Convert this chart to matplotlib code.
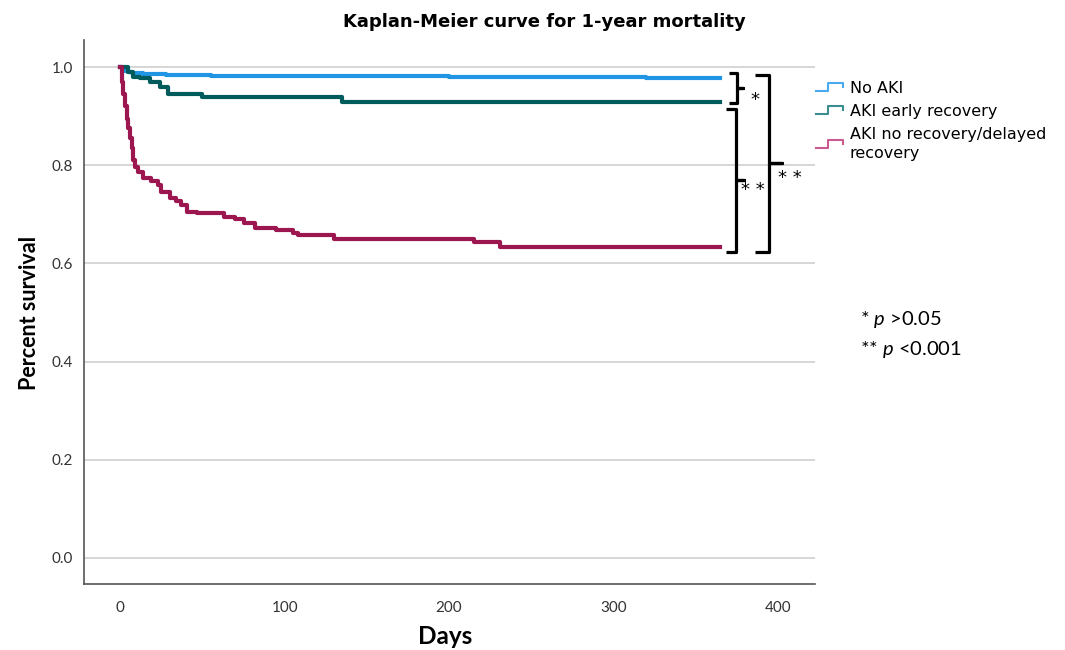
import numpy as np
import matplotlib
matplotlib.use('Agg')
import matplotlib.pyplot as plt
from matplotlib.lines import Line2D
from matplotlib.legend_handler import HandlerBase

# Kaplan-Meier step data (days, survival)
no_aki_days = [0, 1, 2, 3, 5, 7, 10, 14, 20, 28, 40, 55, 75, 110, 160, 200, 240, 280, 320, 365]
no_aki_surv = [1.0, 0.996, 0.993, 0.991, 0.989, 0.988, 0.987, 0.986, 0.985, 0.984,
               0.983, 0.982, 0.982, 0.981, 0.981, 0.980, 0.980, 0.979, 0.978, 0.977]

early_days = [0, 5, 8, 12, 18, 24, 29, 50, 135, 365]
early_surv = [1.0, 0.99, 0.98, 0.978, 0.97, 0.96, 0.945, 0.938, 0.929, 0.929]

norec_days = [0, 1, 2, 3, 4, 5, 6, 7, 8, 9, 11, 14, 19, 23, 25, 30, 34, 37, 40.5, 47,
              63, 70, 75, 82, 95, 105, 108, 130, 215, 231, 365]
norec_surv = [1.0, 0.97, 0.945, 0.92, 0.895, 0.875, 0.855, 0.835, 0.81, 0.797, 0.787,
              0.773, 0.768, 0.759, 0.745, 0.733, 0.727, 0.718, 0.705, 0.703, 0.695,
              0.69, 0.682, 0.673, 0.668, 0.662, 0.657, 0.649, 0.643, 0.633, 0.633]

group_labels = ['No AKI', 'AKI early recovery', 'AKI no recovery/delayed\nrecovery']
line_colors = ['#1f95e3', '#005c5c', '#9c1650']
legend_colors = ['#4aaaf0', '#3b8c8c', '#c95b8d']

x_ticks = [0, 100, 200, 300, 400]
y_ticks = [0.0, 0.2, 0.4, 0.6, 0.8, 1.0]


class StepHandler(HandlerBase):
    # legend key drawn as a small step, like the SPSS output
    def create_artists(self, legend, orig_handle, xdescent, ydescent, width, height, fontsize, trans):
        x = np.array([0, 0.45, 0.45, 1.0, 1.0]) * width - xdescent
        y = np.array([0.15, 0.15, 0.85, 0.85, 0.55]) * height - ydescent
        line = Line2D(x, y, color=orig_handle.get_color(), lw=1.5)
        line.set_transform(trans)
        return [line]


def brace(ax, x0, x1, xt, ytop, ybot):
    # right-facing square brace between two survival levels
    ymid = (ytop + ybot) / 2
    ax.plot([x0, x1, x1, xt, x1, x1, x0], [ytop, ytop, ymid, ymid, ymid, ybot, ybot],
            color='black', lw=2.3, solid_joinstyle='round', solid_capstyle='butt', clip_on=False)


fig = plt.figure(figsize=(10.65, 6.5), dpi=100)
ax = fig.add_axes([84 / 1065, 66 / 650, 731 / 1065, 544 / 650])

series = [(no_aki_days, no_aki_surv), (early_days, early_surv), (norec_days, norec_surv)]
for (d, s), c in zip(series, line_colors):
    ax.step(d, s, where='post', color=c, lw=3, zorder=3)

ax.set_xlim(-22, 422.5)
ax.set_ylim(-0.053, 1.055)
ax.set_xticks(x_ticks)
ax.set_yticks(y_ticks)
ax.set_yticklabels(['%.1f' % v for v in y_ticks])
ax.tick_params(length=0, labelsize=11, pad=8, colors='#333333')
for lab in ax.get_xticklabels() + ax.get_yticklabels():
    lab.set_family('Lato')
ax.tick_params(axis='x', pad=12)
ax.grid(axis='y', color='#cfcfcf', lw=1.2)
ax.set_axisbelow(True)
for side in ['top', 'right']:
    ax.spines[side].set_visible(False)
for side in ['left', 'bottom']:
    ax.spines[side].set_color('#555555')
    ax.spines[side].set_linewidth(1.2)

# significance braces
b_end, e_end, n_end = no_aki_surv[-1], early_surv[-1], norec_surv[-1]
brace(ax, 370.2, 375.1, 378.7, b_end + 0.011, e_end - 0.002)
brace(ax, 368.4, 374.5, 379.3, e_end - 0.015, n_end - 0.009)
brace(ax, 386.0, 394.5, 402.4, b_end + 0.007, n_end - 0.009)
ax.text(386, 0.933, '*', fontsize=13, ha='center', va='center', family='DejaVu Sans')
ax.text(384.8, 0.749, '* *', fontsize=13, ha='center', va='center', family='DejaVu Sans')
ax.text(407.3, 0.773, '* *', fontsize=13, ha='center', va='center', family='DejaVu Sans')

handles = [Line2D([], [], color=c) for c in legend_colors]
leg = fig.legend(handles, group_labels, handler_map={Line2D: StepHandler()},
                 loc='upper left', bbox_to_anchor=(816 / 1065, 1 - 81 / 650),
                 frameon=False, fontsize=11.5, handlelength=1.7, handletextpad=0.4,
                 labelspacing=0.5, borderpad=0, borderaxespad=0)
for t in leg.get_texts():
    t.set_linespacing(1.3)

fig.text(544 / 1065, 1 - 22 / 650, 'Kaplan-Meier curve for 1-year mortality',
         ha='center', va='center', fontsize=13, fontweight='bold', family='DejaVu Sans')
fig.text(30 / 1065, 1 - 313 / 650, 'Percent survival', rotation=90, ha='center', va='center',
         fontsize=15.5, fontweight='bold', family='Lato')
fig.text(445 / 1065, 1 - 637 / 650, 'Days', ha='center', va='center',
         fontsize=17.5, fontweight='bold', family='Lato')

plt.rcParams['mathtext.fontset'] = 'custom'
plt.rcParams['mathtext.rm'] = 'Lato'
plt.rcParams['mathtext.it'] = 'Lato:italic'
fig.text(860 / 1065, 1 - 320 / 650, '* $\\mathit{p}$ >0.05', ha='left', va='center',
         fontsize=14.5, family='Lato')
fig.text(860 / 1065, 1 - 350 / 650, '** $\\mathit{p}$ <0.001', ha='left', va='center',
         fontsize=14.5, family='Lato')

fig.savefig('out.png', dpi=100, facecolor='white')
